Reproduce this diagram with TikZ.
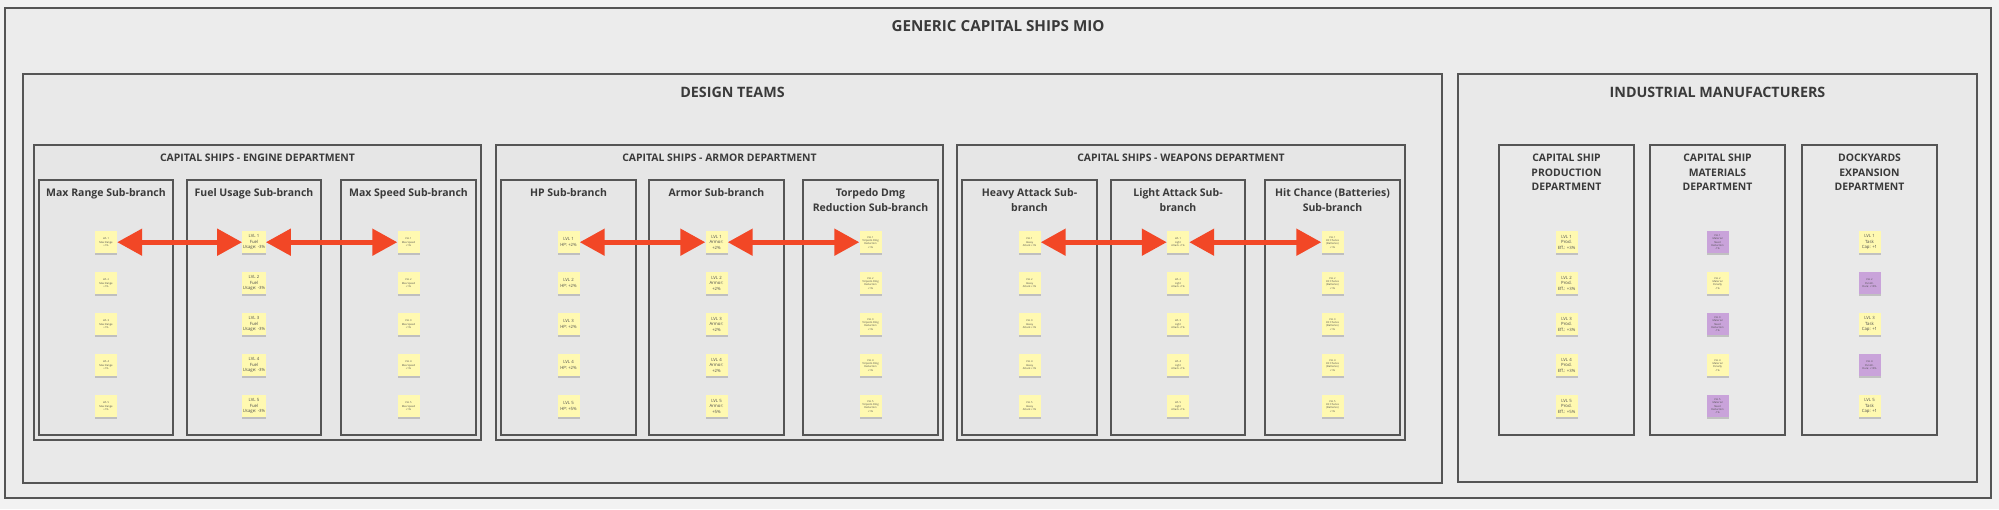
\documentclass[tikz,border=0pt]{standalone}
\usepackage{fontspec}
\setmainfont{Open Sans}
\usetikzlibrary{arrows.meta,positioning,shadows}

\definecolor{boardbg}{HTML}{F2F2F2}
\definecolor{outerfill}{HTML}{ECECEC}
\definecolor{teamfill}{HTML}{E9E9E9}
\definecolor{deptfill}{HTML}{E6E6E6}
\definecolor{framegray}{HTML}{555555}
\definecolor{titlegray}{HTML}{3A3A3A}
\definecolor{stickyyellow}{HTML}{FFF9B1}
\definecolor{stickyviolet}{HTML}{C9A3DA}
\definecolor{linkred}{HTML}{F24726}

\begin{document}
\begin{tikzpicture}[
  x=1pt, y=-1pt,
  frame/.style={rectangle, draw=framegray, line width=1.4pt, anchor=north west,
                inner sep=0pt, outer sep=0pt},
  bigtitle/.style={font=\bfseries\fontsize{14.3}{17}\selectfont, text=titlegray,
                   inner sep=0pt},
  depttitle/.style={font=\bfseries\fontsize{10.4}{14.5}\selectfont, text=titlegray,
                    inner sep=0pt, align=center},
  subtitle/.style={font=\bfseries\fontsize{10.5}{15}\selectfont, text=titlegray,
                   inner sep=0pt, align=center},
  sticky/.style={rectangle, fill=stickyyellow, minimum width=22pt, minimum height=22pt,
                 inner sep=0.5pt, align=center, text=black!70,
                 font=\fontsize{4.3}{5.6}\selectfont,
                 drop shadow={shadow xshift=0pt, shadow yshift=-1.6pt, opacity=0.3, fill=black!60}},
  smalltext/.style={font=\fontsize{2.6}{3.3}\selectfont},
  violetnote/.style={fill=stickyviolet},
  link/.style={{Triangle[length=25pt,width=26pt]}-{Triangle[length=25pt,width=26pt]},
               line width=5pt, draw=linkred},
]

% Board
\fill[boardbg] (0,0) rectangle (1999,509);
\useasboundingbox (0,0) rectangle (1999,509);

% Outer frame
\node[frame, fill=outerfill, minimum width=1986pt, minimum height=490pt] (outer) at (5,8) {};
\node[bigtitle, font=\bfseries\fontsize{15.2}{18}\selectfont, below=12.5pt of outer.north] (maintitle) {GENERIC CAPITAL SHIPS MIO};

% Design teams (left)
\node[frame, fill=teamfill, minimum width=1419pt, minimum height=409pt] (design) at (23,74) {};
\node[bigtitle, below=13pt of design.north] {DESIGN TEAMS};

\node[frame, fill=deptfill, minimum width=447pt, minimum height=295pt] (engine) at (34,145) {};
\node[depttitle, below=9pt of engine.north] {CAPITAL SHIPS - ENGINE DEPARTMENT};
\node[frame, fill=deptfill, minimum width=447pt, minimum height=295pt] (armor) at (496,145) {};
\node[depttitle, below=9pt of armor.north] {CAPITAL SHIPS - ARMOR DEPARTMENT};
\node[frame, fill=deptfill, minimum width=448pt, minimum height=295pt] (weapons) at (957,145) {};
\node[depttitle, below=9pt of weapons.north] {CAPITAL SHIPS - WEAPONS DEPARTMENT};

% Sub-branches
\node[frame, minimum width=134pt, minimum height=255pt] (mr) at (39,180) {};
\node[subtitle, below=8pt of mr.north] {Max Range Sub-branch};
\node[frame, minimum width=134pt, minimum height=255pt] (fu) at (187,180) {};
\node[subtitle, below=8pt of fu.north] {Fuel Usage Sub-branch};
\node[frame, minimum width=135pt, minimum height=255pt] (ms) at (341,180) {};
\node[subtitle, below=8pt of ms.north] {Max Speed Sub-branch};

\node[frame, minimum width=135pt, minimum height=255pt] (hp) at (501,180) {};
\node[subtitle, below=8pt of hp.north] {HP Sub-branch};
\node[frame, minimum width=135pt, minimum height=255pt] (ar) at (649,180) {};
\node[subtitle, below=8pt of ar.north] {Armor Sub-branch};
\node[frame, minimum width=135pt, minimum height=255pt] (td) at (803,180) {};
\node[subtitle, below=8pt of td.north] {Torpedo Dmg\\Reduction Sub-branch};

\node[frame, minimum width=135pt, minimum height=255pt] (ha) at (962,180) {};
\node[subtitle, below=8pt of ha.north] {Heavy Attack Sub-\\branch};
\node[frame, minimum width=134pt, minimum height=255pt] (la) at (1111,180) {};
\node[subtitle, below=8pt of la.north] {Light Attack Sub-\\branch};
\node[frame, minimum width=135pt, minimum height=255pt] (hc) at (1265,180) {};
\node[subtitle, below=8pt of hc.north] {Hit Chance (Batteries)\\Sub-branch};

% Industrial manufacturers (right)
\node[frame, fill=teamfill, minimum width=519pt, minimum height=408pt] (industry) at (1458,74) {};
\node[bigtitle, below=13pt of industry.north] {INDUSTRIAL MANUFACTURERS};

\node[frame, minimum width=135pt, minimum height=290pt] (pr) at (1499,145) {};
\node[depttitle, below=9pt of pr.north] {CAPITAL SHIP\\PRODUCTION\\DEPARTMENT};
\node[frame, minimum width=135pt, minimum height=290pt] (mat) at (1650,145) {};
\node[depttitle, below=9pt of mat.north] {CAPITAL SHIP\\MATERIALS\\DEPARTMENT};
\node[frame, minimum width=135pt, minimum height=290pt] (dy) at (1802,145) {};
\node[depttitle, below=9pt of dy.north] {DOCKYARDS\\EXPANSION\\DEPARTMENT};

% Notes, one column per sub-branch
\foreach \n [evaluate=\n as \dy using 51+41*(\n-1)] in {1,...,5} {
  \node[sticky, smalltext, below=\dy pt of mr.north] (mr-\n) {LVL \n\\Max Range\\+1\%};
  \node[sticky, below=\dy pt of fu.north] (fu-\n) {LVL \n\\Fuel\\Usage: -3\%};
  \node[sticky, smalltext, below=\dy pt of ms.north] (ms-\n) {LVL \n\\Max Speed\\+1\%};
  \node[sticky, below=\dy pt of hp.north] (hp-\n) {LVL \n\\HP: +\ifnum\n=5 5\else 2\fi\%};
  \node[sticky, below=\dy pt of ar.north] (ar-\n) {LVL \n\\Armor:\\+\ifnum\n=5 5\else 2\fi\%};
  \node[sticky, smalltext, below=\dy pt of td.north] (td-\n) {LVL \n\\Torpedo Dmg\\Reduction\\+1\%};
  \node[sticky, smalltext, below=\dy pt of ha.north] (ha-\n) {LVL \n\\Heavy\\Attack +1\%};
  \node[sticky, smalltext, below=\dy pt of la.north] (la-\n) {LVL \n\\Light\\Attack +1\%};
  \node[sticky, smalltext, below=\dy pt of hc.north] (hc-\n) {LVL \n\\Hit Chance\\(Batteries)\\+1\%};
}
\foreach \n [evaluate=\n as \dy using 86+41*(\n-1)] in {1,...,5}
  \node[sticky, below=\dy pt of pr.north] (pr-\n) {LVL \n\\Prod.\\Eff.: +\ifnum\n=5 5\else 3\fi\%};
\foreach \n [evaluate=\n as \dy using 86+41*(\n-1)] in {1,3,5}
  \node[sticky, violetnote, smalltext, below=\dy pt of mat.north] (mat-\n) {LVL \n\\Material\\Need\\Reduction\\-1\%};
\foreach \n [evaluate=\n as \dy using 86+41*(\n-1)] in {2,4}
  \node[sticky, smalltext, below=\dy pt of mat.north] (mat-\n) {LVL \n\\Material\\Penalty\\-1\%};
\foreach \n [evaluate=\n as \dy using 86+41*(\n-1)] in {1,3,5}
  \node[sticky, below=\dy pt of dy.north] (dy-\n) {LVL \n\\Task\\Cap: +1};
\foreach \n [evaluate=\n as \dy using 86+41*(\n-1)] in {2,4}
  \node[sticky, violetnote, smalltext, below=\dy pt of dy.north] (dy-\n) {LVL \n\\Punish.\\Dura: +10\%};

% Links between first levels
\draw[link] (mr-1) -- (fu-1);
\draw[link] (fu-1) -- (ms-1);
\draw[link] (hp-1) -- (ar-1);
\draw[link] (ar-1) -- (td-1);
\draw[link] (ha-1) -- (la-1);
\draw[link] (la-1) -- (hc-1);

\end{tikzpicture}
\end{document}
